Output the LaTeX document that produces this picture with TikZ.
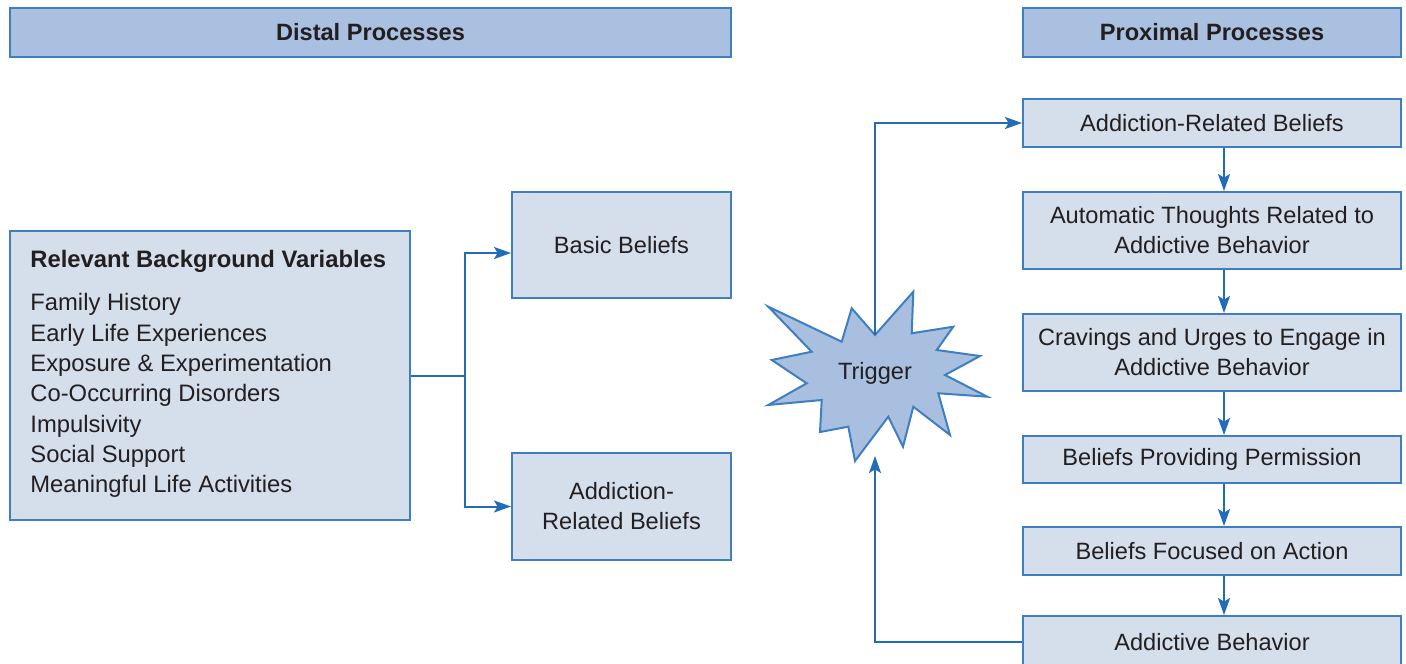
\documentclass[tikz,border=0pt]{standalone}
\usepackage{fontspec}
\setmainfont{Liberation Sans}
\usetikzlibrary{arrows.meta,calc}
\definecolor{bordc}{HTML}{3D7FC1}
\definecolor{arrc}{HTML}{236DB8}
\definecolor{hdrfill}{HTML}{A9C0E0}
\definecolor{boxfill}{HTML}{D5DEEB}
\definecolor{starfill}{HTML}{A8BFDF}
\definecolor{txt}{HTML}{231F20}
\tikzset{
  hdr/.style={draw=bordc, fill=hdrfill, line width=1pt, font=\fontsize{11.8pt}{15pt}\selectfont\bfseries, text=txt, inner sep=0pt},
  box/.style={draw=bordc, fill=boxfill, line width=1pt, font=\fontsize{11.8pt}{15pt}\selectfont, text=txt, align=center, inner sep=0pt, minimum width=189pt},
  arr/.style={draw=arrc, line width=1pt, -{Stealth[length=8.5pt,width=6pt,inset=1.8pt]}},
  ln/.style={draw=arrc, line width=1pt},
  starsty/.style={draw=bordc, fill=starfill, line width=1pt, line join=miter},
  lbl/.style={font=\fontsize{11.8pt}{15pt}\selectfont, text=txt, inner sep=0pt}
}
\begin{document}
\begin{tikzpicture}[x=0.5pt,y=-0.5pt]
\useasboundingbox (0,0) rectangle (1406,663);
% headers
\node[hdr, minimum width=360.5pt, minimum height=24.5pt] (dist) at (370.5,32.5) {Distal Processes};
\node[hdr, minimum width=189pt, minimum height=24.5pt] (prox) at (1212,32.5) {Proximal Processes};
% left
\node[box, minimum width=200pt, minimum height=144.5pt] (bg) at (210,375.5) {};
\node[lbl, anchor=north west, align=left, font=\fontsize{11.9pt}{15.15pt}\selectfont] (bgtext) at (30,250)
  {\textbf{Relevant Background Variables}\\[6.5pt]
   Family History\\
   Early Life Experiences\\
   Exposure \& Experimentation\\
   Co-Occurring Disorders\\
   Impulsivity\\
   Social Support\\
   Meaningful Life Activities};
\node[box, minimum width=109.5pt, minimum height=53pt] (bb) at (621.5,245) {Basic Beliefs};
\node[box, minimum width=109.5pt, minimum height=53.5pt] (arl) at (621.5,506.5) {Addiction-\\Related Beliefs};
\coordinate (j) at (465,376);
\draw[ln] (bg.east |- j) -- (j);
\draw[arr] (j) |- ([yshift=-4pt]bb.west);
\draw[arr] (j) |- (arl.west);
% right column
\node[box, minimum height=24pt] (arb) at (1212,123) {Addiction-Related Beliefs};
\node[box, minimum height=38.5pt] (atr) at (1212,230.5) {Automatic Thoughts Related to\\Addictive Behavior};
\node[box, minimum height=38.5pt] (crav) at (1212,352.5) {Cravings and Urges to Engage in\\Addictive Behavior};
\node[box, minimum height=23.5pt] (bpp) at (1212,459.5) {Beliefs Providing Permission};
\node[box, minimum height=24pt] (bfa) at (1212,551) {Beliefs Focused on Action};
\node[box, minimum height=26pt] (ab) at (1212,642) {Addictive Behavior};
\coordinate (ax) at (1224,0);
\draw[arr] (arb.south -| ax) -- (atr.north -| ax);
\draw[arr] (atr.south -| ax) -- (crav.north -| ax);
\draw[arr] (crav.south -| ax) -- (bpp.north -| ax);
\draw[arr] (bpp.south -| ax) -- (bfa.north -| ax);
\draw[arr] (bfa.south -| ax) -- (ab.north -| ax);
% trigger star
\draw[starsty] (768.3,306.7) -- (841.7,341.7) -- (851.7,308.3) -- (875,335) -- (913.3,291.7) -- (911.7,333.3)
  -- (953.3,326.7) -- (936.7,350) -- (980,356) -- (945,375) -- (987.3,396.7) -- (938.3,393.3)
  -- (950,435) -- (913.3,406.7) -- (903,446.7) -- (888.3,416.7) -- (855,461) -- (848.3,426.7)
  -- (820,432) -- (821.7,400) -- (768.3,405) -- (806.7,383.3) -- (771.7,360) -- (811.7,351.7) -- cycle;
\node[lbl] (trig) at (875,373) {Trigger};
\coordinate (st) at (875,335);
\coordinate (sb) at (875,456);
\draw[arr] (st) |- (arb.west);
\draw[arr] (ab.west) -| (sb);
\end{tikzpicture}
\end{document}
